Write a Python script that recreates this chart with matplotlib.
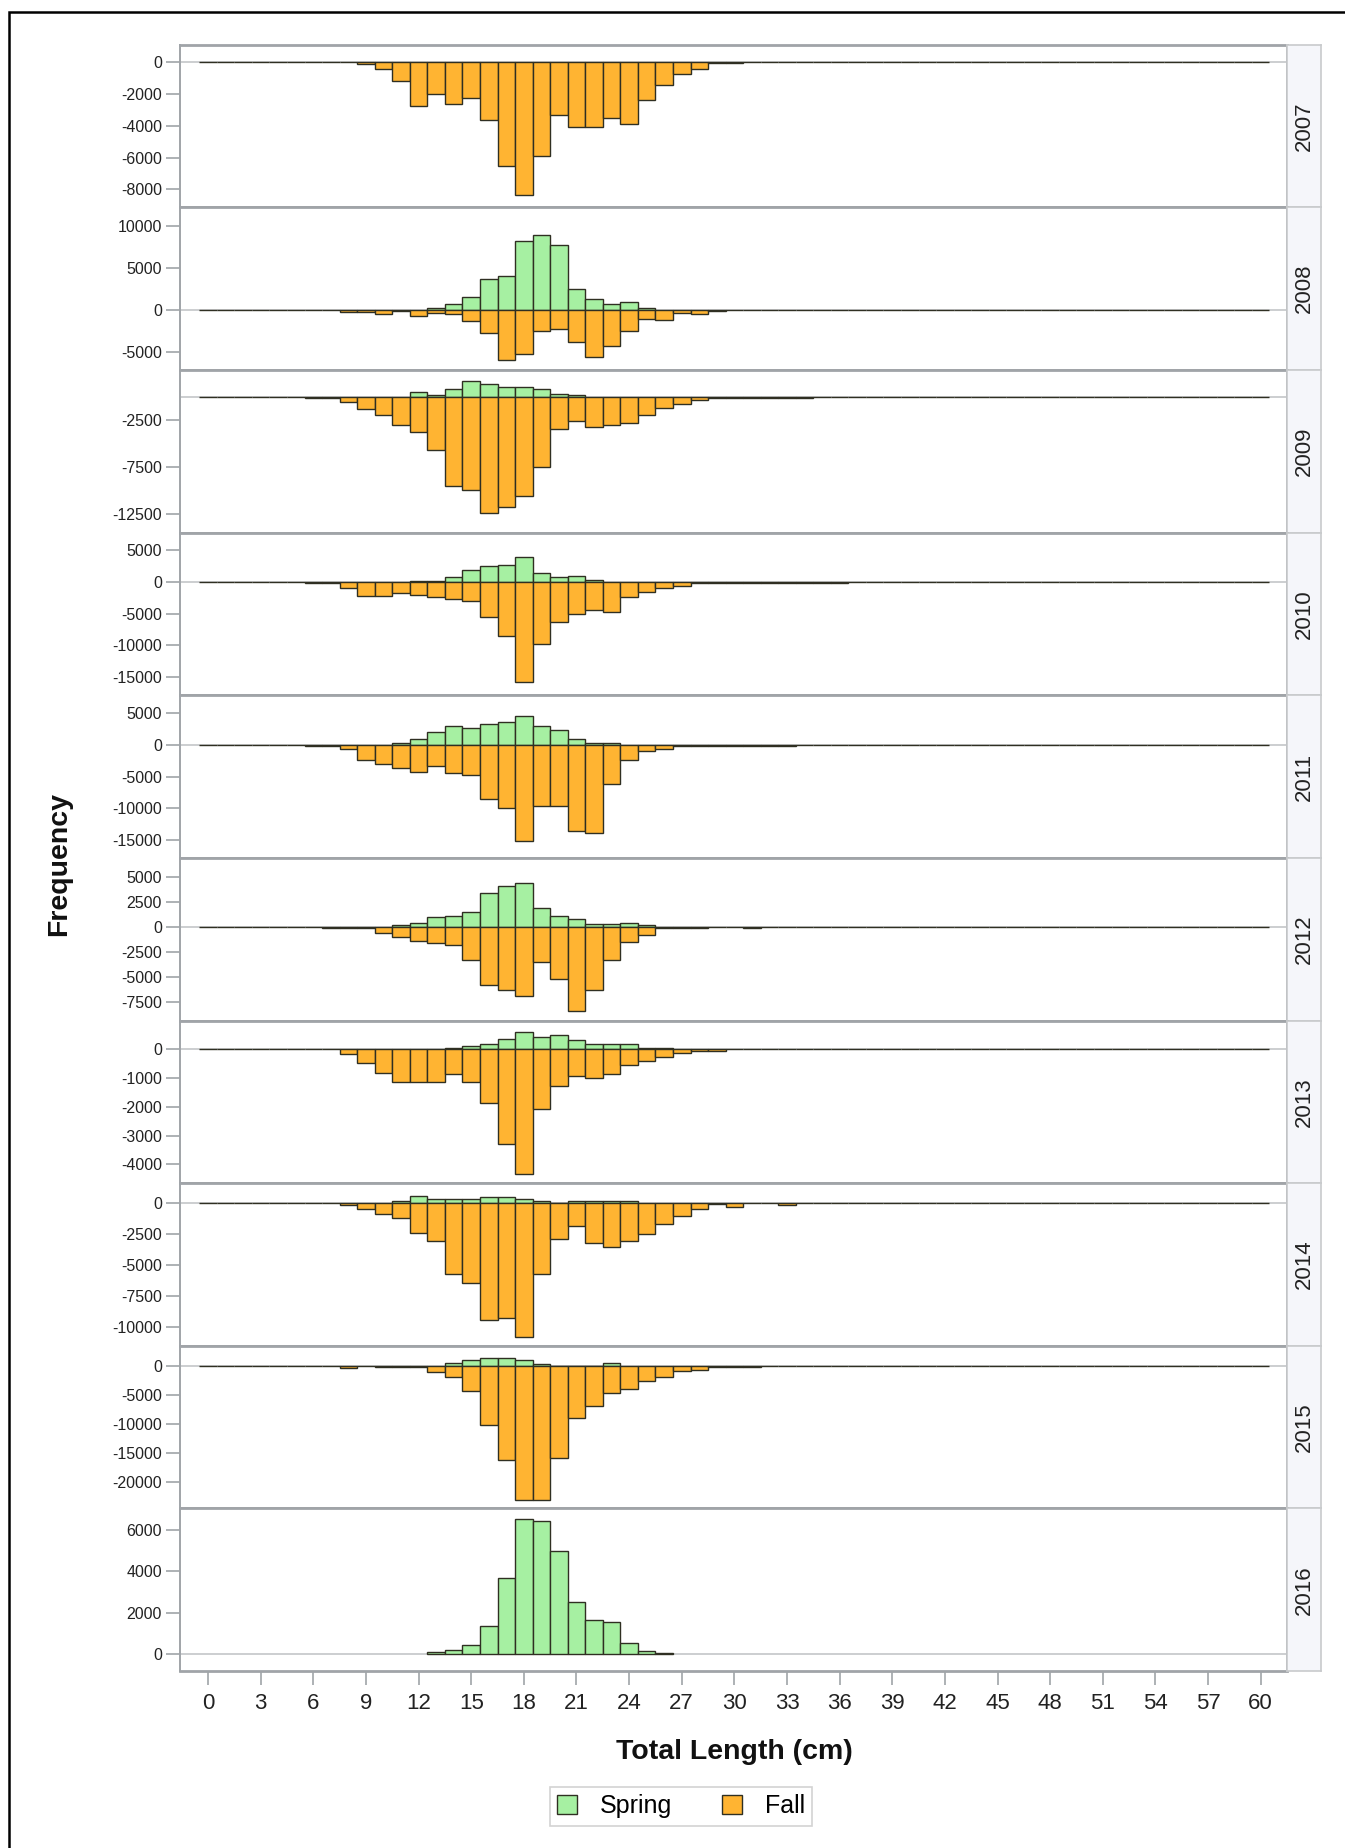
import matplotlib
matplotlib.use('Agg')
import matplotlib.pyplot as plt
import numpy as np
from matplotlib.patches import Patch, Rectangle

plt.rcParams['font.family'] = ['Liberation Sans', 'DejaVu Sans']

# --- data: (first length bin, frequencies) per year; fall counts are plotted negative ---
years = [2007, 2008, 2009, 2010, 2011, 2012, 2013, 2014, 2015, 2016]
lengths = np.arange(0, 61)  # 1 cm bins centred on 0..60

spring_2007 = (0, [])
fall_2007 = (9, [-130, -460, -1180, -2760, -2000, -2660, -2280, -3610, -6540, -8350, -5910,
                 -3350, -4090, -4090, -3480, -3880, -2400, -1410, -740, -460, -60, -60])

spring_2008 = (13, [200, 670, 1540, 3600, 4070, 8140, 8850, 7700, 2490, 1340, 630, 950, 200])
fall_2008 = (8, [-280, -280, -550, -150, -750, -430, -470, -1380, -2770, -5930, -5300, -2530,
                 -2250, -3870, -5650, -4350, -2530, -1150, -1230, -400, -470, -100])

spring_2009 = (12, [530, 200, 890, 1700, 1350, 1030, 1060, 890, 350, 200])
fall_2009 = (6, [-140, -140, -500, -1310, -1910, -2980, -3760, -5640, -9470, -9860, -12380,
                 -11740, -10530, -7450, -3370, -2590, -3230, -3010, -2770, -1950, -1130, -740,
                 -350, -80, -80, -80, -80, -80, -80])

spring_2010 = (12, [150, 150, 790, 1850, 2480, 2740, 3960, 1480, 790, 900, 320])
fall_2010 = (6, [-150, -150, -950, -2160, -2160, -1740, -2060, -2430, -2740, -3010, -5490,
                 -8550, -15830, -9760, -6330, -5010, -4490, -4800, -2430, -1530, -900, -580,
                 -100, -100, -100, -100, -100, -100, -100, -100, -100])

spring_2011 = (11, [370, 890, 2100, 3000, 2680, 3320, 3580, 4530, 3050, 2370, 890, 370, 320])
fall_2011 = (6, [-150, -150, -580, -2420, -2950, -3680, -4260, -3320, -4470, -4790, -8470,
                 -10000, -15160, -9630, -9630, -13580, -13950, -6110, -2420, -890, -630,
                 -100, -100, -100, -100, -100, -100, -100])

spring_2012 = (11, [200, 400, 970, 1130, 1500, 3430, 4130, 4400, 1900, 1130, 770, 300, 330, 370, 200])
fall_2012 = (7, [-100, -100, -100, -570, -970, -1400, -1570, -1770, -3270, -5770, -6300, -6900,
                 -3470, -5230, -8430, -6300, -3300, -1530, -800, -100, -100, -100, 0, 0, -150])

spring_2013 = (14, [60, 130, 200, 380, 600, 450, 520, 330, 175, 175, 175, 60, 60])
fall_2013 = (8, [-150, -465, -815, -1150, -1150, -1150, -870, -1150, -1880, -3300, -4350, -2090,
                 -1280, -930, -1000, -860, -550, -400, -270, -130, -40, -40])

spring_2014 = (11, [100, 510, 270, 270, 270, 480, 480, 290, 160, 0, 160, 160, 160, 160])
fall_2014 = (8, [-190, -480, -940, -1260, -2460, -3100, -5720, -6470, -9410, -9220, -10780,
                 -5720, -2940, -1900, -3260, -3580, -3070, -2490, -1710, -1070, -480, -100,
                 -350, 0, 0, -150])

spring_2015 = (14, [400, 970, 1370, 1370, 970, 340, 0, 0, 0, 400])
fall_2015 = (8, [-460, 0, -200, -200, -200, -1030, -1940, -4340, -10230, -16110, -23030, -23030,
                 -15770, -8910, -6970, -4690, -4000, -2630, -1940, -970, -740, -150, -150, -150])

spring_2016 = (13, [80, 200, 450, 1350, 3650, 6500, 6400, 4950, 2500, 1650, 1550, 550, 150, 60])
fall_2016 = (0, [])

spring_all = [spring_2007, spring_2008, spring_2009, spring_2010, spring_2011,
              spring_2012, spring_2013, spring_2014, spring_2015, spring_2016]
fall_all = [fall_2007, fall_2008, fall_2009, fall_2010, fall_2011,
            fall_2012, fall_2013, fall_2014, fall_2015, fall_2016]

y_ticks = [
    [0, -2000, -4000, -6000, -8000],
    [10000, 5000, 0, -5000],
    [-2500, -7500, -12500],
    [5000, 0, -5000, -10000, -15000],
    [5000, 0, -5000, -10000, -15000],
    [5000, 2500, 0, -2500, -5000, -7500],
    [0, -1000, -2000, -3000, -4000],
    [0, -2500, -5000, -7500, -10000],
    [0, -5000, -10000, -15000, -20000],
    [6000, 4000, 2000, 0],
]
y_limits = [(-9130, 1090), (-7150, 12150), (-14440, 2870), (-17900, 7790), (-17850, 7850),
            (-9370, 6900), (-4660, 1010), (-11470, 1570), (-24470, 3430), (-820, 7030)]
x_ticks = list(range(0, 61, 3))

SPRING_C = '#a6f0a2'
FALL_C = '#ffb432'
EDGE_C = '#2f2f22'
FRAME_C = '#a0a4a8'

W, H = 1345, 1848
fig = plt.figure(figsize=(W / 100, H / 100), dpi=100)


def fx(px):
    return px / W


def fy(py):
    return 1 - py / H


left_px, right_px, strip_px = 180, 1287, 1321
top_px, bottom_px = 44.8, 1671
panel_h = (bottom_px - top_px) / len(years)

for i, year in enumerate(years):
    ptop = top_px + i * panel_h
    ax = fig.add_axes([fx(left_px), fy(ptop + panel_h), fx(right_px) - fx(left_px), panel_h / H])

    ax.axhline(0, color='#c4c6c8', lw=1.2, zorder=0)

    s0, svals = spring_all[i]
    if svals:
        ax.bar(np.arange(s0, s0 + len(svals)), svals, width=1, color=SPRING_C,
               edgecolor=EDGE_C, linewidth=1.0, zorder=2)

    f0, fvals = fall_all[i]
    if fvals:
        full = np.zeros(len(lengths))
        full[f0:f0 + len(fvals)] = fvals
        ax.bar(lengths, full, width=1, color=FALL_C, edgecolor=EDGE_C, linewidth=1.0, zorder=3)

    ax.set_xlim(-1.6, 61.5)
    ax.set_ylim(*y_limits[i])
    ax.set_yticks(y_ticks[i])
    ax.set_yticklabels([str(t) for t in y_ticks[i]])
    ax.tick_params(axis='y', direction='out', length=10, width=1.2, color=FRAME_C,
                   labelsize=11.5, pad=3, labelcolor='#222222')

    for side, sp in ax.spines.items():
        sp.set_color(FRAME_C)
        sp.set_linewidth(2.0 if side in ('top', 'bottom') else 1.4)

    if i == len(years) - 1:
        ax.set_xticks(x_ticks)
        ax.set_xticklabels([str(t) for t in x_ticks])
        ax.tick_params(axis='x', direction='out', length=10, width=1.2, color=FRAME_C,
                       labelsize=16, pad=6, labelcolor='#222222')
    else:
        ax.tick_params(axis='x', bottom=False, labelbottom=False)

    # year strip on the right
    sax = fig.add_axes([fx(right_px), fy(ptop + panel_h), fx(strip_px) - fx(right_px), panel_h / H])
    sax.set_facecolor('#f5f6fa')
    sax.set_xticks([])
    sax.set_yticks([])
    for sp in sax.spines.values():
        sp.set_color('#c8cacc')
        sp.set_linewidth(1.2)
    sax.text(0.5, 0.5, str(year), rotation=90, ha='center', va='center',
             fontsize=16, color='#222222', transform=sax.transAxes)

fig.text(fx(59), fy(864), 'Frequency', rotation=90, ha='center', va='center',
         fontsize=20.5, fontweight='bold', color='#111111')
fig.text(fx(734), fy(1752), 'Total Length (cm)', ha='center', va='center',
         fontsize=20.5, fontweight='bold', color='#111111')

handles = [Patch(facecolor=SPRING_C, edgecolor=EDGE_C, linewidth=1.0, label='Spring'),
           Patch(facecolor=FALL_C, edgecolor=EDGE_C, linewidth=1.0, label='Fall')]
leg = fig.legend(handles=handles, loc='center', bbox_to_anchor=(fx(681), fy(1806)), ncol=2,
                 fontsize=18, frameon=True, fancybox=False, handlelength=0.8, handleheight=0.8,
                 columnspacing=2.0, handletextpad=0.9, borderpad=0.3, borderaxespad=0)
leg.get_frame().set_edgecolor('#c8c8c8')
leg.get_frame().set_linewidth(1.2)

# outer black border (extends past right/bottom edge as in the reference)
fig.add_artist(Rectangle((fx(9), fy(1900)), 2, fy(12) - fy(1900), transform=fig.transFigure,
                         fill=False, edgecolor='black', linewidth=1.8))

fig.savefig('out.png', dpi=100)
plt.close(fig)
